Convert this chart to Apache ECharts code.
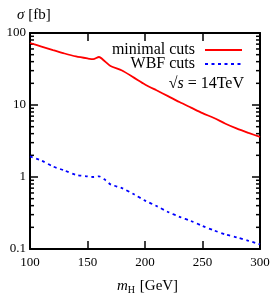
<!DOCTYPE html>
<html><head><meta charset="utf-8">
<script src="https://cdn.jsdelivr.net/npm/echarts@6/dist/echarts.min.js"></script>
<style>html,body{margin:0;padding:0;background:#fff}#c{width:273px;height:293px}</style>
</head><body><div id="c"></div>
<script>
const masses = [100,110,120,130,140,150,155,160,165,170,180,190,200,210,220,230,240,250,260,270,280,290,300];
const minimalCuts = [72.6,64.9,58,51.9,47.2,44.3,43.3,46.4,40.5,34.8,30.1,24.2,19.3,16.0,13.3,11.0,9.2,7.7,6.6,5.5,4.7,4.1,3.6];
const wbfCuts = [1.93,1.69,1.40,1.23,1.07,1.02,1.0,1.02,0.92,0.79,0.70,0.58,0.47,0.395,0.327,0.28,0.245,0.209,0.181,0.159,0.145,0.13,0.116];
const xTicks = [100,150,200,250,300];
const yTicks = [0.1,1,10,100];
const minorTicks = [0.2,0.3,0.4,0.5,0.6,0.7,0.8,0.9,2,3,4,5,6,7,8,9,20,30,40,50,60,70,80,90];

const serif = '"Liberation Serif", "DejaVu Serif", serif';
const chart = echarts.init(document.getElementById('c'), null, {renderer:'canvas'});
const axisLine = {show:true, lineStyle:{color:'#000', width:2}};
const tick = {show:true, inside:true, length:8, lineStyle:{color:'#000', width:1.5}};
const legTxt = {fontFamily:serif, fontSize:16, color:'#000', padding:[0,5,0,0]};
chart.setOption({
  animation:false,
  grid:{left:30, right:13, top:33, bottom:44, containLabel:false},
  title:[
    {text:'{i|σ} [fb]', left:12, top:3, textStyle:{fontFamily:serif, fontSize:15, fontWeight:'normal', color:'#000', rich:{i:{fontFamily:serif, fontStyle:'italic', fontSize:15}}}},
    {text:'{i|m}{s|H} [GeV]', left:112, top:273, textStyle:{fontFamily:serif, fontSize:15, fontWeight:'normal', color:'#000', rich:{i:{fontFamily:serif, fontStyle:'italic', fontSize:15}, s:{fontFamily:serif, fontSize:10, padding:[7,1,0,0]}}}},
    {text:'√{i|s} = 14TeV', right:24, top:71, textStyle:{fontFamily:serif, fontSize:16, fontWeight:'normal', color:'#000', rich:{i:{fontFamily:serif, fontStyle:'italic', fontSize:16}}}}
  ],
  legend:[
    {data:['minimal cuts'], right:25, top:37, align:'right', itemWidth:37, itemHeight:2, itemGap:0, itemStyle:{color:'rgba(0,0,0,0)', borderWidth:0}, textStyle:legTxt, selectedMode:false},
    {data:['WBF cuts'], right:25, top:51, align:'right', itemWidth:37, itemHeight:2, itemGap:0, itemStyle:{color:'rgba(0,0,0,0)', borderWidth:0}, textStyle:legTxt, selectedMode:false}
  ],
  xAxis:[
    {type:'value', min:100, max:300, interval:50, position:'bottom', axisLine, axisTick:tick, splitLine:{show:false},
     axisLabel:{fontFamily:serif, fontSize:13, color:'#000', margin:7}},
    {type:'value', min:100, max:300, interval:50, position:'top', axisLine, axisTick:tick, splitLine:{show:false}, axisLabel:{show:false}}
  ],
  yAxis:[
    {type:'log', logBase:10, min:0.1, max:100, position:'left', axisLine, axisTick:tick, splitLine:{show:false},
     axisLabel:{fontFamily:serif, fontSize:13, color:'#000', margin:4, formatter:v=>{const r=yTicks.find(t=>Math.abs(t-v)/t<1e-6);return r===undefined?'':String(r);}}},
    {type:'log', logBase:10, min:0.1, max:100, position:'right', axisLine, axisTick:tick, splitLine:{show:false}, axisLabel:{show:false}}
  ],
  series:[
    {name:'minimal cuts', type:'line', data:masses.map((m,i)=>[m,minimalCuts[i]]), showSymbol:false, symbol:'none', smooth:0.25,
     lineStyle:{color:'#ff0000', width:1.8}, itemStyle:{color:'#ff0000'}},
    {name:'WBF cuts', type:'line', data:masses.map((m,i)=>[m,wbfCuts[i]]), showSymbol:false, symbol:'none', smooth:0.25,
     lineStyle:{color:'#0000ff', width:1.8, type:[3,3.5]}, itemStyle:{color:'#0000ff'}},
    {name:'minor', type:'custom', silent:true, clip:false, data:minorTicks.map(v=>[xTicks[0], v]),
     renderItem:(params, api)=>{
       const v = api.value(1);
       const l = api.coord([xTicks[0], v]);
       const r = api.coord([xTicks[xTicks.length-1], v]);
       const st = {stroke:'#000', lineWidth:1.5};
       return {type:'group', children:[
         {type:'line', shape:{x1:l[0], y1:l[1], x2:l[0]+4, y2:l[1]}, style:st},
         {type:'line', shape:{x1:r[0]-4, y1:r[1], x2:r[0], y2:r[1]}, style:st}
       ]};
     }}
  ]
});
</script></body></html>
